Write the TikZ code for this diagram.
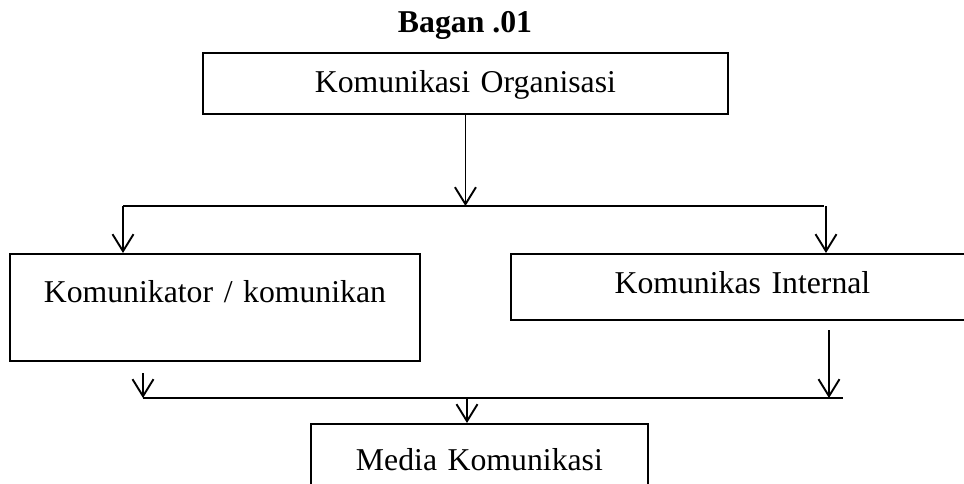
\documentclass[tikz,border=0pt]{standalone}
\usepackage{fontspec}
\setmainfont{Liberation Serif}
\usetikzlibrary{positioning, arrows.meta}
\tikzset{
    box/.style={draw, line width=1.9pt, inner sep=0pt, align=center, anchor=north west},
    flow/.style={line width=1.9pt, -{Straight Barb[length=17pt, width=21pt, line width=1.9pt]}},
    bus/.style={line width=1.9pt},
}

\begin{document}
\begin{tikzpicture}[x=1pt, y=-1pt, font=\fontsize{31.75}{38}\selectfont]
    \useasboundingbox (0,0) rectangle (964,483);

    \node[anchor=base, font=\fontsize{31.75}{38}\selectfont\bfseries] (title) at (465,32) {Bagan .01};
    \node[box, text width=525pt, text height=40pt, text depth=21pt] (org) at (202,52) {Komunikasi Organisasi};
    \node[box, text width=410pt, text height=49pt, text depth=58pt] (kom) at (9,253) {Komunikator / komunikan};
    \node[box, text width=463pt, text height=40pt, text depth=26pt] (int) at (510,253) {Komunikas Internal};
    \node[box, text width=337pt, text height=47pt, text depth=40pt] (media) at (310,423) {Media Komunikasi};

    % upper split
    \coordinate (up w) at (123,206);
    \coordinate (up e) at (824,206);
    \draw[bus] (up w) -- (up e);
    \draw[flow] (org.south) -- (org.south |- up w);
    \draw[flow] (up w) -- (up w |- kom.north);
    \draw[flow] ([xshift=2pt]up e) -- ([xshift=2pt]up e |- int.north);

    % lower join
    \coordinate (low w) at (143,398);
    \coordinate (low e) at (843,398);
    \coordinate (kom out) at (143,373);
    \coordinate (int out) at (829,330);
    \coordinate (low m) at (467,398);
    \draw[bus] (low w) -- (low e);
    \draw[flow] (kom out) -- (low w);
    \draw[flow] (int out) -- (int out |- low w);
    \draw[flow] (low m) -- (low m |- media.north);
\end{tikzpicture}
\end{document}
